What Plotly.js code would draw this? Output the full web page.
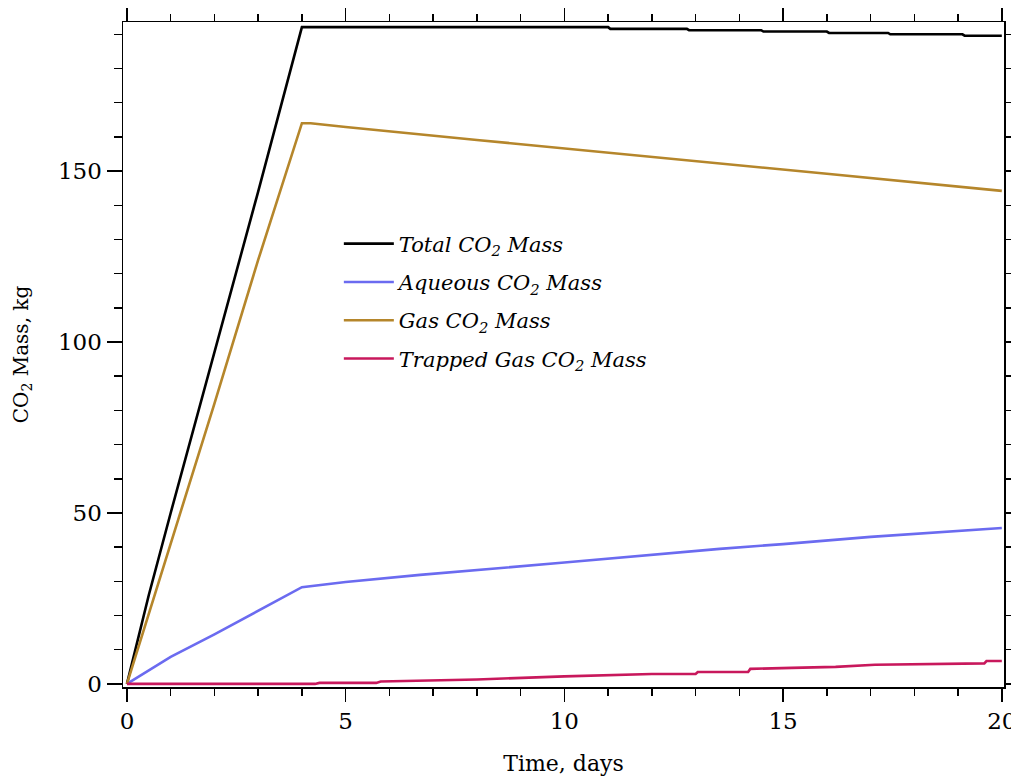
<!DOCTYPE html>
<html>
<head>
<meta charset="utf-8">
<script src="https://cdn.plot.ly/plotly-3.0.1.min.js"></script>
<style>html,body{margin:0;padding:0;background:#fff;}#chart{width:1011px;height:779px;}</style>
</head>
<body>
<div id="chart"></div>
<script>
// Time (days) and CO2 mass (kg)
const totalDays = [0, 0.5, 1, 2, 3, 4, 11, 11.05, 12.8, 12.85, 14.5, 14.55, 16, 16.05, 17.4, 17.45, 19.1, 19.15, 20];
const totalMass = [0, 26, 50, 97, 144, 192.1, 192.1, 191.6, 191.6, 191.2, 191.2, 190.8, 190.8, 190.4, 190.4, 190.0, 190.0, 189.6, 189.6];

const aqueousDays = [0, 1, 2, 3, 4, 5, 6.7, 10, 13.55, 15, 17, 20];
const aqueousMass = [0, 7.9, 14.5, 21.5, 28.3, 29.8, 31.9, 35.5, 39.5, 40.9, 43.0, 45.6];

const gasDays = [0, 1, 2, 3, 4, 4.2, 5, 8, 11.3, 12, 16, 20];
const gasMass = [0, 41, 82, 124, 164, 164, 162.9, 159.1, 155.1, 154.1, 149.2, 144.2];

const trappedDays = [0, 4.3, 4.4, 5.7, 5.8, 8, 10, 12, 13.0, 13.05, 14.2, 14.25, 15.2, 16.2, 17.1, 17.9, 18.7, 19.6, 19.65, 20];
const trappedMass = [0, 0, 0.3, 0.3, 0.7, 1.3, 2.2, 2.9, 2.9, 3.5, 3.5, 4.4, 4.7, 5.0, 5.6, 5.7, 6.0, 6.0, 6.7, 6.7];

const seriesNames = [
  "<i>Total CO<sub>2</sub> Mass</i>",
  "<i>Aqueous CO<sub>2</sub> Mass</i>",
  "<i>Gas CO<sub>2</sub> Mass</i>",
  "<i>Trapped Gas CO<sub>2</sub> Mass</i>"
];
const seriesColors = ["#000000", "#6b6bf0", "#b5862b", "#c8185c"];

const xs = [totalDays, aqueousDays, gasDays, trappedDays];
const ys = [totalMass, aqueousMass, gasMass, trappedMass];

const traces = xs.map((x, i) => ({
  x: x, y: ys[i], type: "scatter", mode: "lines",
  name: seriesNames[i], legendgroup: "g" + i,
  line: {color: seriesColors[i], width: 2.6}
}));

const fontFam = "DejaVu Serif, serif";
const axisCommon = {
  showgrid: false, zeroline: false, showline: true, linecolor: "#000", linewidth: 1.5,
  mirror: "ticks", ticks: "outside", tickcolor: "#000", tickwidth: 1.5,
  ticklabeloverflow: "allow",
  tickfont: {family: fontFam, size: 23, color: "#000"}
};

const layout = {
  width: 1011, height: 779,
  margin: {l: 123, r: 7, t: 22, b: 92},
  paper_bgcolor: "#fff", plot_bgcolor: "#fff",
  showlegend: true,
  legend: {
    x: 0.245, y: 0.697, xanchor: "left", yanchor: "top",
    bgcolor: "rgba(0,0,0,0)", borderwidth: 0,
    tracegroupgap: 8, itemwidth: 50,
    font: {family: fontFam, size: 21, color: "#000"}
  },
  xaxis: Object.assign({}, axisCommon, {
    range: [-0.09, 20.05], tickmode: "array", tickvals: [0, 5, 10, 15, 20],
    ticklen: 13,
    minor: {dtick: 1, tick0: 0, ticks: "outside", ticklen: 7, tickcolor: "#000", tickwidth: 1.5, showgrid: false},
    title: {text: "Time, days", font: {family: fontFam, size: 22, color: "#000"}, standoff: 22}
  }),
  yaxis: Object.assign({}, axisCommon, {
    range: [-0.9, 193.6], tickmode: "array", tickvals: [0, 50, 100, 150],
    ticklen: 15,
    minor: {dtick: 10, tick0: 0, ticks: "outside", ticklen: 8, tickcolor: "#000", tickwidth: 1.5, showgrid: false},
    title: {text: "CO<sub>2</sub> Mass, kg", font: {family: fontFam, size: 20, color: "#000"}, standoff: 24}
  })
};

Plotly.newPlot("chart", traces, layout, {displayModeBar: false, staticPlot: true});
</script>
</body>
</html>
